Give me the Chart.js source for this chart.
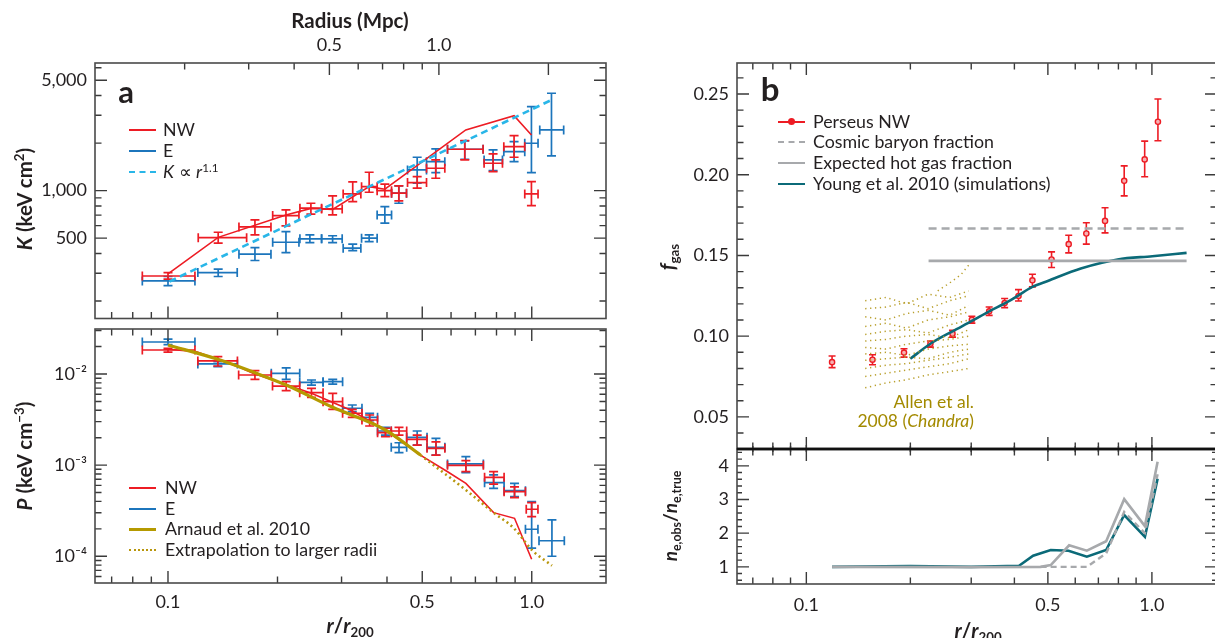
<!DOCTYPE html>
<html><head><meta charset="utf-8">
<script src="https://cdn.jsdelivr.net/npm/chart.js@4.4.0/dist/chart.umd.min.js"></script>
<style>
html,body{margin:0;padding:0;background:#fff;width:1215px;height:638px;overflow:hidden;position:relative;font-family:Lato,'Open Sans',sans-serif;color:#231f20}
canvas{position:absolute}
.t{position:absolute;white-space:nowrap;color:#231f20;line-height:1}
.ttl{font-weight:bold;font-size:20.5px}
.rot{transform:translate(-50%,-50%) rotate(-90deg)}
.ctr{transform:translate(-50%,-50%)}
.lg{font-size:17.8px;transform:translateY(-50%)}
.sw{position:absolute;height:0}
sup{font-size:65%;vertical-align:0.55em;line-height:0}
sub{font-size:65%;vertical-align:-0.35em;line-height:0}
</style></head>
<body>
<canvas id="c1" width="640" height="325" style="left:0;top:0"></canvas>
<canvas id="c2" width="640" height="316" style="left:0;top:322px"></canvas>
<canvas id="c3" width="600" height="452" style="left:640px;top:0"></canvas>
<canvas id="c4" width="600" height="193" style="left:640px;top:445px"></canvas>

<!-- axis titles -->
<div class="t ttl ctr" style="left:350px;top:20px;font-size:20.5px">Radius (Mpc)</div>
<div class="t ttl rot" style="left:24px;top:199px"><i>K</i> (keV cm<sup>2</sup>)</div>
<div class="t ttl rot" style="left:24px;top:456px"><i>P</i> (keV cm<sup>−3</sup>)</div>
<div class="t ttl ctr" style="left:350px;top:625px"><i>r</i>/<i>r</i><sub>200</sub></div>
<div class="t ttl ctr" style="left:978px;top:630px"><i>r</i>/<i>r</i><sub>200</sub></div>
<div class="t ttl rot" style="left:667px;top:257px"><i>f</i><sub>gas</sub></div>
<div class="t ttl rot" style="left:669px;top:516px;font-size:19px"><i>n</i><sub>e,obs</sub>/<i>n</i><sub>e,true</sub></div>
<div class="t ctr" style="left:126px;top:91px;font-weight:bold;font-size:31px">a</div>
<div class="t ctr" style="left:770px;top:88px;font-weight:bold;font-size:33px">b</div>

<!-- legend a top -->
<div class="sw" style="left:129px;top:129px;width:27px;border-top:2px solid #ed1c24"></div>
<div class="t lg" style="left:163px;top:130px">NW</div>
<div class="sw" style="left:129px;top:150px;width:27px;border-top:2px solid #1c75bc"></div>
<div class="t lg" style="left:163px;top:151px">E</div>
<div class="sw" style="left:129px;top:171px;width:27px;border-top:2.5px dashed #29b6e8"></div>
<div class="t lg" style="left:163px;top:172px"><i>K</i> ∝ <i>r</i><sup>1.1</sup></div>

<!-- legend a bottom -->
<div class="sw" style="left:129px;top:487px;width:27px;border-top:2px solid #ed1c24"></div>
<div class="t lg" style="left:165px;top:488px">NW</div>
<div class="sw" style="left:129px;top:508px;width:27px;border-top:2px solid #1c75bc"></div>
<div class="t lg" style="left:165px;top:509px">E</div>
<div class="sw" style="left:129px;top:528px;width:27px;border-top:3px solid #b59a00"></div>
<div class="t lg" style="left:165px;top:529px">Arnaud et al. 2010</div>
<div class="sw" style="left:129px;top:549px;width:27px;border-top:2.5px dotted #b8960c"></div>
<div class="t lg" style="left:165px;top:550px">Extrapolation to larger radii</div>

<!-- legend b -->
<div class="sw" style="left:778px;top:121px;width:27px;border-top:2px solid #ed1c24"></div>
<div class="sw" style="left:788px;top:118px;width:7px;height:7px;border-radius:50%;background:#ed1c24"></div>
<div class="t lg" style="left:813px;top:122px">Perseus NW</div>
<div class="sw" style="left:778px;top:141px;width:27px;border-top:2.5px dashed #a7a9ac"></div>
<div class="t lg" style="left:813px;top:142px">Cosmic baryon fraction</div>
<div class="sw" style="left:778px;top:162px;width:27px;border-top:2.5px solid #a7a9ac"></div>
<div class="t lg" style="left:813px;top:163px">Expected hot gas fraction</div>
<div class="sw" style="left:778px;top:183px;width:27px;border-top:2.5px solid #0b6a78"></div>
<div class="t lg" style="left:813px;top:184px">Young et al. 2010 (simulations)</div>

<div class="t" style="right:241px;top:393px;font-size:17.5px;color:#a38a00;text-align:right">Allen et al.</div>
<div class="t" style="right:241px;top:412px;font-size:17.5px;color:#a38a00;text-align:right">2008 (<i>Chandra</i>)</div>

<script>
// ---------- axis ranges / ticks ----------
const R_MIN = 0.063, R_MAX = 1.6;
const R200_MPC = 1.8;
const K_MIN = 155, K_MAX = 6430;
const P_MIN = 5.09e-5, P_MAX = 0.03118;
const F_MIN = 0.0301, F_MAX = 0.2692;
const N_MIN = 0.49, N_MAX = 4.5;
const RB_MAX = 1.543;

const rTickMajor = [0.1, 0.5, 1.0];
const rTickMinor = [0.07, 0.08, 0.09, 0.2, 0.3, 0.4, 0.6, 0.7, 0.8, 0.9];
const rTickLabels = ['0.1', '0.5', '1.0'];
const mpcTickMajor = [0.5, 1.0, 2.0];
const mpcTickMinor = [0.2, 0.3, 0.4, 0.6, 0.7, 0.8, 0.9];
const mpcTickLabeled = [0.5, 1.0];
const mpcTickLabels = ['0.5', '1.0'];
const kTickMajor = [500, 1000, 5000];
const kTickMinor = [200, 300, 400, 600, 700, 800, 900, 2000, 3000, 4000, 6000];
const kTickLabels = ['500', '1,000', '5,000'];
const pTickMajor = [1e-4, 1e-3, 1e-2];
const pTickMinor = [6e-5, 7e-5, 8e-5, 9e-5, 2e-4, 3e-4, 4e-4, 5e-4, 6e-4, 7e-4, 8e-4, 9e-4, 2e-3, 3e-3, 4e-3, 5e-3, 6e-3, 7e-3, 8e-3, 9e-3, 2e-2, 3e-2];
const pTickLabels = ['10⁻⁴', '10⁻³', '10⁻²'];
const fTickMajor = [0.05, 0.10, 0.15, 0.20, 0.25];
const fTickMinor = [0.04, 0.06, 0.07, 0.08, 0.09, 0.11, 0.12, 0.13, 0.14, 0.16, 0.17, 0.18, 0.19, 0.21, 0.22, 0.23, 0.24, 0.26];
const fTickLabels = ['0.05', '0.10', '0.15', '0.20', '0.25'];
const nTickMajor = [1, 2, 3, 4];
const nTickMinor = [0.6, 0.8, 1.2, 1.4, 1.6, 1.8, 2.2, 2.4, 2.6, 2.8, 3.2, 3.4, 3.6, 3.8, 4.2, 4.4];
const nTickLabels = ['1', '2', '3', '4'];

// ---------- panel a (top): entropy K ----------
const kNW_r   = [0.100, 0.1374, 0.1734, 0.2110, 0.2471, 0.2835, 0.322, 0.3573, 0.3946, 0.4311, 0.4842, 0.5447, 0.6545, 0.7828, 0.8941, 0.998];
const kNW_K   = [288, 504, 589, 695, 774, 766, 953, 1060, 1000, 963, 1124, 1386, 1828, 1491, 1899, 953];
const kNW_Klo = [275, 465, 524, 598, 709, 702, 852, 977, 916, 861, 1036, 1198, 1564, 1319, 1627, 804];
const kNW_Khi = [303, 545, 653, 755, 832, 926, 1135, 1307, 1098, 1071, 1226, 1564, 2073, 1707, 2229, 1140];
const kNW_rlo = [0.0850, 0.1211, 0.1567, 0.1940, 0.2305, 0.2644, 0.3031, 0.3405, 0.3758, 0.4117, 0.4555, 0.5137, 0.5867, 0.7396, 0.8379, 0.9567];
const kNW_rhi = [0.1186, 0.1645, 0.1919, 0.2291, 0.2644, 0.3012, 0.339, 0.3758, 0.4117, 0.4526, 0.5137, 0.5768, 0.7349, 0.8308, 0.9567, 1.0406];

const kE_r   = [0.100, 0.1374, 0.1734, 0.2110, 0.2455, 0.2835, 0.322, 0.3573, 0.3946, 0.4311, 0.4842, 0.5447, 0.6545, 0.7828, 0.8941, 0.998, 1.133];
const kE_K   = [268, 303, 396, 471, 495, 495, 432, 500, 702, 963, 1352, 1526, 1828, 1564, 1766, 1995, 2422];
const kE_Klo = [250, 286, 361, 405, 469, 469, 417, 476, 622, 832, 1114, 1300, 1580, 1338, 1526, 1300, 1658];
const kE_Khi = [286, 318, 436, 550, 524, 518, 458, 524, 792, 1071, 1627, 1836, 2063, 1810, 2042, 3401, 4136];
const kE_rlo = [0.0850, 0.1208, 0.1567, 0.1940, 0.2305, 0.2644, 0.3031, 0.3405, 0.3758, 0.4117, 0.4555, 0.5137, 0.5867, 0.7396, 0.8379, 0.9567, 1.052];
const kE_rhi = [0.1186, 0.1550, 0.1919, 0.2291, 0.2644, 0.3012, 0.339, 0.3758, 0.4117, 0.4526, 0.5137, 0.5768, 0.7349, 0.8308, 0.9567, 1.0406, 1.224];

const kNWline_r = [0.100, 0.1374, 0.2110, 0.2471, 0.2835, 0.3573, 0.3946, 0.6587, 0.8941, 0.998];
const kNWline_K = [297, 506, 702, 772, 760, 1060, 1021, 2422, 2984, 2252];
const kSlope_r = [0.101, 1.133];
const kSlope_K = [266, 3750];

// ---------- panel a (bottom): pressure P ----------
const pNW_r   = [0.100, 0.1371, 0.1734, 0.2113, 0.2480, 0.2837, 0.3211, 0.3584, 0.3961, 0.4316, 0.4842, 0.5453, 0.6590, 0.7855, 0.8967, 0.9994];
const pNW_P   = [0.01834, 0.0139, 0.00975, 0.00738, 0.00624, 0.00497, 0.00371, 0.00313, 0.00227, 0.00237, 0.00192, 0.00153, 0.000996, 0.000735, 0.000512, 0.000328];
const pNW_Plo = [0.0174, 0.01224, 0.00875, 0.00656, 0.00555, 0.0041, 0.00334, 0.00269, 0.00205, 0.00214, 0.00166, 0.00129, 0.000848, 0.00062, 0.00044, 0.000272];
const pNW_Phi = [0.0191, 0.01548, 0.01087, 0.00823, 0.00697, 0.00614, 0.0041, 0.00355, 0.00254, 0.0026, 0.00214, 0.0018, 0.001123, 0.000848, 0.000578, 0.000388];
const pNW_rlo = [0.085, 0.1208, 0.1564, 0.1938, 0.2302, 0.2669, 0.302, 0.3414, 0.3768, 0.4109, 0.4531, 0.5154, 0.5866, 0.7418, 0.8394, 0.9658];
const pNW_rhi = [0.1186, 0.1552, 0.1923, 0.2302, 0.2669, 0.302, 0.3414, 0.3768, 0.4109, 0.4531, 0.5154, 0.577, 0.7362, 0.8394, 0.9609, 1.040];

const pE_r   = [0.100, 0.1371, 0.2113, 0.2480, 0.2837, 0.3211, 0.3584, 0.3961, 0.4316, 0.4842, 0.5453, 0.6590, 0.7855, 0.8967, 0.9994, 1.1363];
const pE_P   = [0.02244, 0.0129, 0.01018, 0.00811, 0.00823, 0.00421, 0.00335, 0.00237, 0.00157, 0.00202, 0.00157, 0.00103, 0.000642, 0.000525, 0.000198, 0.000148];
const pE_Plo = [0.0210, 0.01203, 0.00875, 0.00757, 0.00773, 0.00387, 0.00307, 0.00214, 0.00137, 0.00166, 0.00129, 0.000827, 0.000557, 0.000452, 0.000123, 0.0001];
const pE_Phi = [0.0242, 0.01364, 0.0117, 0.00859, 0.00875, 0.00457, 0.0037, 0.0026, 0.00176, 0.00237, 0.00197, 0.00124, 0.000782, 0.00063, 0.000398, 0.000251];
const pE_rlo = [0.085, 0.1208, 0.1923, 0.2302, 0.2669, 0.302, 0.3414, 0.3768, 0.4109, 0.4531, 0.5154, 0.5866, 0.7418, 0.8394, 0.9609, 1.047];
const pE_rhi = [0.1186, 0.1552, 0.2302, 0.2669, 0.302, 0.3414, 0.3768, 0.4109, 0.4531, 0.5154, 0.577, 0.7362, 0.8394, 0.9609, 1.040, 1.229];

const pNWline_r = [0.100, 0.1199, 0.156, 0.1713, 0.2480, 0.3172, 0.3961, 0.4943, 0.587, 0.6590, 0.7855, 0.8967, 0.9994];
const pNWline_P = [0.01866, 0.01757, 0.0120, 0.01018, 0.00614, 0.00403, 0.00243, 0.00129, 0.000847, 0.000631, 0.000301, 0.000261, 0.0000927];
const arnaud_r = [0.100, 0.1371, 0.1734, 0.2113, 0.2837, 0.3961, 0.4943];
const arnaud_P = [0.0208, 0.01449, 0.01033, 0.00757, 0.00431, 0.00243, 0.00129];
const extrap_r = [0.4943, 0.6590, 0.7855, 0.8967, 0.9994, 1.1363];
const extrap_P = [0.00129, 0.000534, 0.000301, 0.000200, 0.000118, 0.0000790];

// ---------- panel b (top): gas fraction ----------
const fNW_r   = [0.1187, 0.1554, 0.1917, 0.2286, 0.2648, 0.3013, 0.3381, 0.3748, 0.4111, 0.451, 0.5124, 0.5744, 0.646, 0.7318, 0.8314, 0.953, 1.041];
const fNW_f   = [0.0839, 0.0854, 0.0898, 0.0953, 0.1015, 0.1102, 0.1154, 0.1205, 0.1249, 0.1346, 0.1475, 0.1570, 0.1636, 0.1714, 0.1962, 0.2095, 0.2328];
const fNW_flo = [0.0805, 0.0823, 0.0870, 0.0932, 0.0994, 0.1081, 0.1129, 0.1177, 0.1218, 0.1305, 0.1425, 0.1516, 0.1570, 0.1640, 0.1869, 0.1987, 0.2210];
const fNW_fhi = [0.0877, 0.0885, 0.0922, 0.0970, 0.1036, 0.1123, 0.1181, 0.1233, 0.1288, 0.1383, 0.1522, 0.1625, 0.1702, 0.1795, 0.2055, 0.2208, 0.2469];
const cosmic_r = [0.2258, 1.26];
const cosmic_f = [0.1667, 0.1667];
const hotgas_r = [0.2258, 1.26];
const hotgas_f = [0.1466, 0.1466];
const young_r = [0.1999, 0.2286, 0.2648, 0.3013, 0.3381, 0.3822, 0.4111, 0.451, 0.4997, 0.6228, 0.7956, 1.003, 1.26];
const young_f = [0.086, 0.0953, 0.103, 0.1094, 0.1154, 0.1212, 0.1253, 0.1305, 0.1342, 0.1419, 0.1475, 0.1495, 0.1516];
// Allen et al. 2008 dotted profiles
const allen_r = [0.148, 0.17, 0.195, 0.225, 0.26, 0.295];
const allenA = [0.122, 0.124, 0.120, 0.126, 0.124, 0.128];
const allenB = [0.117, 0.118, 0.121, 0.117, 0.122, 0.125];
const allenC = [0.112, 0.110, 0.114, 0.116, 0.113, 0.119];
const allenD = [0.106, 0.108, 0.105, 0.110, 0.112, 0.115];
const allenE = [0.101, 0.103, 0.104, 0.102, 0.107, 0.110];
const allenF = [0.097, 0.098, 0.100, 0.101, 0.099, 0.104];
const allenG = [0.093, 0.092, 0.095, 0.097, 0.098, 0.100];
const allenH = [0.089, 0.090, 0.088, 0.092, 0.094, 0.095];
const allenI = [0.085, 0.086, 0.087, 0.086, 0.090, 0.092];
const allenJ = [0.080, 0.082, 0.083, 0.085, 0.087, 0.089];
const allenK = [0.075, 0.077, 0.079, 0.081, 0.083, 0.086];
const allenL = [0.068, 0.071, 0.073, 0.076, 0.078, 0.080];
const allenHigh_r = [0.24, 0.26, 0.28, 0.295];
const allenHigh_f = [0.128, 0.133, 0.138, 0.144];

// ---------- panel b (bottom): density bias ----------
const nTeal_r = [0.1187, 0.2, 0.3, 0.4127, 0.4531, 0.5097, 0.5737, 0.6482, 0.7373, 0.8314, 0.9544, 1.0387];
const nTeal_v = [1.0, 1.02, 1.0, 1.03, 1.33, 1.50, 1.48, 1.30, 1.50, 2.54, 1.89, 3.62];
const nGray_r = [0.1187, 0.3, 0.4764, 0.5097, 0.5760, 0.6482, 0.7373, 0.8314, 0.9544, 1.0387];
const nGray_v = [1.0, 0.99, 1.0, 1.05, 1.64, 1.48, 1.76, 3.01, 2.21, 4.12];
const nDash_r = [0.4764, 0.6482, 0.7373, 0.8314, 0.9544, 1.0387];
const nDash_v = [1.0, 1.0, 1.40, 2.63, 2.0, 3.75];

// ---------- helpers ----------
const RED = '#ed1c24', BLUE = '#1c75bc', CYAN = '#29b6e8', OLIVE = '#b59a00', OLIVE_DOT = '#b8960c',
      TEAL = '#0b6a78', GRAY = '#a7a9ac', ALLEN = '#b9a02e', TXT = '#231f20';
const FONT = {family: "Lato, 'Open Sans', sans-serif", size: 18};
const pts = (xs, ys) => xs.map((x, i) => ({x, y: ys[i]}));

const errorBarPlugin = {
  id: 'errbars',
  beforeDatasetsDraw(chart) {
    const ctx = chart.ctx;
    chart.data.datasets.forEach(ds => {
      if (!ds.eb) return;
      const xs = chart.scales.x, ys = chart.scales.y;
      ctx.save();
      ctx.strokeStyle = ds.ebColor; ctx.lineWidth = ds.ebWidth || 1.7;
      const cap = ds.ebCap || 4.5;
      ds.data.forEach((p, i) => {
        const px = xs.getPixelForValue(p.x), py = ys.getPixelForValue(p.y);
        ctx.beginPath();
        if (ds.eb.xlo) {
          const x1 = xs.getPixelForValue(ds.eb.xlo[i]), x2 = xs.getPixelForValue(ds.eb.xhi[i]);
          ctx.moveTo(x1, py); ctx.lineTo(x2, py);
          ctx.moveTo(x1, py - cap); ctx.lineTo(x1, py + cap);
          ctx.moveTo(x2, py - cap); ctx.lineTo(x2, py + cap);
        }
        if (ds.eb.ylo) {
          const y1 = ys.getPixelForValue(ds.eb.ylo[i]), y2 = ys.getPixelForValue(ds.eb.yhi[i]);
          ctx.moveTo(px, y1); ctx.lineTo(px, y2);
          ctx.moveTo(px - cap, y1); ctx.lineTo(px + cap, y1);
          ctx.moveTo(px - cap, y2); ctx.lineTo(px + cap, y2);
        }
        ctx.stroke();
      });
      ctx.restore();
    });
  }
};

function frameTicks(spec) {
  return {
    id: 'frameTicks',
    afterDraw(chart) {
      const ctx = chart.ctx, a = chart.chartArea;
      ctx.save();
      ctx.strokeStyle = '#3a3a3a'; ctx.lineWidth = 1.4;
      ['left', 'right', 'top', 'bottom'].forEach(side => {
        const s = spec[side]; if (!s) return;
        const sc = chart.scales[s.scale];
        ctx.beginPath();
        const draw = (v, L) => {
          const p = sc.getPixelForValue(v);
          if (side === 'left' || side === 'right') {
            if (p < a.top - 0.5 || p > a.bottom + 0.5) return;
            const x0 = side === 'left' ? a.left : a.right, d = side === 'left' ? 1 : -1;
            ctx.moveTo(x0, p); ctx.lineTo(x0 + d * L, p);
          } else {
            if (p < a.left - 0.5 || p > a.right + 0.5) return;
            const y0 = side === 'top' ? a.top : a.bottom, d = side === 'top' ? 1 : -1;
            ctx.moveTo(p, y0); ctx.lineTo(p, y0 + d * L);
            if (s.out) { ctx.moveTo(p, y0); ctx.lineTo(p, y0 - d * s.out * L); }
          }
        };
        s.major.forEach(v => draw(v, s.majLen || 12));
        s.minor.forEach(v => draw(v, s.minLen || 6.5));
        ctx.stroke();
      });
      ctx.strokeStyle = spec.frameColor || '#4a4a4a'; ctx.lineWidth = spec.frameWidth || 1.6;
      ctx.strokeRect(a.left, a.top, a.right - a.left, a.bottom - a.top);
      if (spec.sep) {
        ctx.strokeStyle = '#111'; ctx.lineWidth = 2.6;
        const y = spec.sep === 'top' ? a.top : a.bottom;
        ctx.beginPath(); ctx.moveTo(a.left, y); ctx.lineTo(a.right + 5, y); ctx.stroke();
      }
      ctx.restore();
    }
  };
}

// fixes axis size and removes the automatic label-overflow padding
function fixSize(prop, n) {
  return s => { s[prop] = n; s.paddingTop = 0; s.paddingBottom = 0; s.paddingLeft = 0; s.paddingRight = 0; };
}
function labelAxis(common) {
  return Object.assign({
    grid: {display: false, drawTicks: false},
    border: {display: false},
  }, common);
}
function tickOpts(values, labels, pad) {
  return {
    afterBuildTicks: s => { s.ticks = values.map(v => ({value: v})); },
    ticks: {
      autoSkip: false, maxRotation: 0, minRotation: 0, padding: pad, color: TXT, font: FONT,
      callback: (v) => { const i = values.findIndex(u => Math.abs(u - v) / u < 1e-6); return i >= 0 ? labels[i] : ''; }
    }
  };
}
const baseOpts = (pad) => ({
  responsive: false, animation: false, devicePixelRatio: 1,
  layout: {autoPadding: false, padding: pad},
  plugins: {legend: {display: false}, tooltip: {enabled: false}},
  elements: {line: {tension: 0}}
});
const lineDs = (xs, ys, color, width, dash, extra) => Object.assign({
  data: pts(xs, ys), showLine: true, borderColor: color, backgroundColor: color,
  borderWidth: width, borderDash: dash || [], pointRadius: 0, fill: false
}, extra || {});

// ---------- chart 1: K ----------
new Chart(document.getElementById('c1'), {
  type: 'scatter',
  data: {datasets: [
    lineDs(kSlope_r, kSlope_K, CYAN, 2.6, [7, 4.5]),
    {data: pts(kE_r, kE_K), pointRadius: 0, eb: {xlo: kE_rlo, xhi: kE_rhi, ylo: kE_Klo, yhi: kE_Khi}, ebColor: BLUE},
    {data: pts(kNW_r, kNW_K), pointRadius: 0, eb: {xlo: kNW_rlo, xhi: kNW_rhi, ylo: kNW_Klo, yhi: kNW_Khi}, ebColor: RED},
    lineDs(kNWline_r, kNWline_K, RED, 1.6),
  ]},
  options: Object.assign(baseOpts({left: 0, top: 0, right: 34, bottom: 6.5}), {
    scales: {
      x: {type: 'logarithmic', min: R_MIN, max: R_MAX, display: false},
      x2: Object.assign(labelAxis({type: 'logarithmic', position: 'top', min: R_MIN * R200_MPC, max: R_MAX * R200_MPC,
            afterFit: fixSize('height', 63)}), tickOpts(mpcTickLabeled, mpcTickLabels, 7)),
      y: Object.assign(labelAxis({type: 'logarithmic', min: K_MIN, max: K_MAX, afterFit: fixSize('width', 95)}),
            tickOpts(kTickMajor, kTickLabels, 8))
    }
  }),
  plugins: [errorBarPlugin, frameTicks({
    left: {scale: 'y', major: kTickMajor, minor: kTickMinor},
    right: {scale: 'y', major: kTickMajor, minor: kTickMinor},
    top: {scale: 'x2', major: mpcTickMajor, minor: mpcTickMinor},
    bottom: {scale: 'x', major: rTickMajor, minor: rTickMinor}
  })]
});

// ---------- chart 2: P ----------
new Chart(document.getElementById('c2'), {
  type: 'scatter',
  data: {datasets: [
    lineDs(arnaud_r, arnaud_P, OLIVE, 3.2, [], {cubicInterpolationMode: 'monotone'}),
    lineDs(extrap_r, extrap_P, OLIVE_DOT, 2.6, [2, 3.2], {cubicInterpolationMode: 'monotone'}),
    {data: pts(pE_r, pE_P), pointRadius: 0, eb: {xlo: pE_rlo, xhi: pE_rhi, ylo: pE_Plo, yhi: pE_Phi}, ebColor: BLUE},
    {data: pts(pNW_r, pNW_P), pointRadius: 0, eb: {xlo: pNW_rlo, xhi: pNW_rhi, ylo: pNW_Plo, yhi: pNW_Phi}, ebColor: RED},
    lineDs(pNWline_r, pNWline_P, RED, 1.6),
  ]},
  options: Object.assign(baseOpts({left: 0, top: 7, right: 34, bottom: 0}), {
    scales: {
      x: Object.assign(labelAxis({type: 'logarithmic', min: R_MIN, max: R_MAX, afterFit: fixSize('height', 55)}),
            tickOpts(rTickMajor, rTickLabels, 8)),
      y: Object.assign(labelAxis({type: 'logarithmic', min: P_MIN, max: P_MAX, afterFit: fixSize('width', 95)}),
            tickOpts(pTickMajor, pTickLabels, 8))
    }
  }),
  plugins: [errorBarPlugin, frameTicks({
    left: {scale: 'y', major: pTickMajor, minor: pTickMinor},
    right: {scale: 'y', major: pTickMajor, minor: pTickMinor},
    top: {scale: 'x', major: rTickMajor, minor: rTickMinor},
    bottom: {scale: 'x', major: rTickMajor, minor: rTickMinor}
  })]
});

// ---------- chart 3: fgas ----------
const allenSets = [allenA, allenB, allenC, allenD, allenE, allenF, allenG, allenH, allenI, allenJ, allenK, allenL]
  .map(arr => lineDs(allen_r, arr, ALLEN, 1.5, [1.3, 3.6]));
new Chart(document.getElementById('c3'), {
  type: 'scatter',
  data: {datasets: [
    ...allenSets,
    lineDs(allenHigh_r, allenHigh_f, ALLEN, 1.5, [1.3, 3.6]),
    lineDs(cosmic_r, cosmic_f, GRAY, 2.6, [8, 5]),
    lineDs(hotgas_r, hotgas_f, GRAY, 2.6),
    lineDs(young_r, young_f, TEAL, 2.6, [], {cubicInterpolationMode: 'monotone'}),
    {data: pts(fNW_r, fNW_f), pointRadius: 2.6, pointBorderWidth: 1.4, pointBorderColor: RED, pointBackgroundColor: '#f7b0b2',
     eb: {ylo: fNW_flo, yhi: fNW_fhi}, ebColor: RED, ebCap: 3.5, ebWidth: 1.6},
  ]},
  options: Object.assign(baseOpts({left: 0, top: 63, right: 23, bottom: 3}), {
    scales: {
      x: {type: 'logarithmic', min: R_MIN, max: RB_MAX, display: false},
      y: Object.assign(labelAxis({type: 'linear', min: F_MIN, max: F_MAX, afterFit: fixSize('width', 97)}),
            tickOpts(fTickMajor, fTickLabels, 8))
    }
  }),
  plugins: [errorBarPlugin, frameTicks({
    left: {scale: 'y', major: fTickMajor, minor: fTickMinor},
    right: {scale: 'y', major: fTickMajor, minor: fTickMinor},
    top: {scale: 'x', major: rTickMajor, minor: rTickMinor},
    bottom: {scale: 'x', major: rTickMajor, minor: rTickMinor, out: 0.45},
    sep: 'bottom'
  })]
});

// ---------- chart 4: ne ratio ----------
new Chart(document.getElementById('c4'), {
  type: 'scatter',
  data: {datasets: [
    lineDs(nDash_r, nDash_v, GRAY, 2.4, [6, 4]),
    lineDs(nGray_r, nGray_v, GRAY, 2.6),
    lineDs(nTeal_r, nTeal_v, TEAL, 2.6),
  ]},
  options: Object.assign(baseOpts({left: 0, top: 4, right: 23, bottom: 0}), {
    scales: {
      x: Object.assign(labelAxis({type: 'logarithmic', min: R_MIN, max: RB_MAX, afterFit: fixSize('height', 54)}),
            tickOpts(rTickMajor, rTickLabels, 10)),
      y: Object.assign(labelAxis({type: 'linear', min: N_MIN, max: N_MAX, afterFit: fixSize('width', 97)}),
            tickOpts(nTickMajor, nTickLabels, 8))
    }
  }),
  plugins: [frameTicks({
    left: {scale: 'y', major: nTickMajor, minor: nTickMinor, minLen: 5},
    right: {scale: 'y', major: nTickMajor, minor: nTickMinor, minLen: 5},
    top: {scale: 'x', major: rTickMajor, minor: rTickMinor, out: 0.45},
    bottom: {scale: 'x', major: rTickMajor, minor: rTickMinor},
    sep: 'top'
  })]
});
</script>
</body></html>
